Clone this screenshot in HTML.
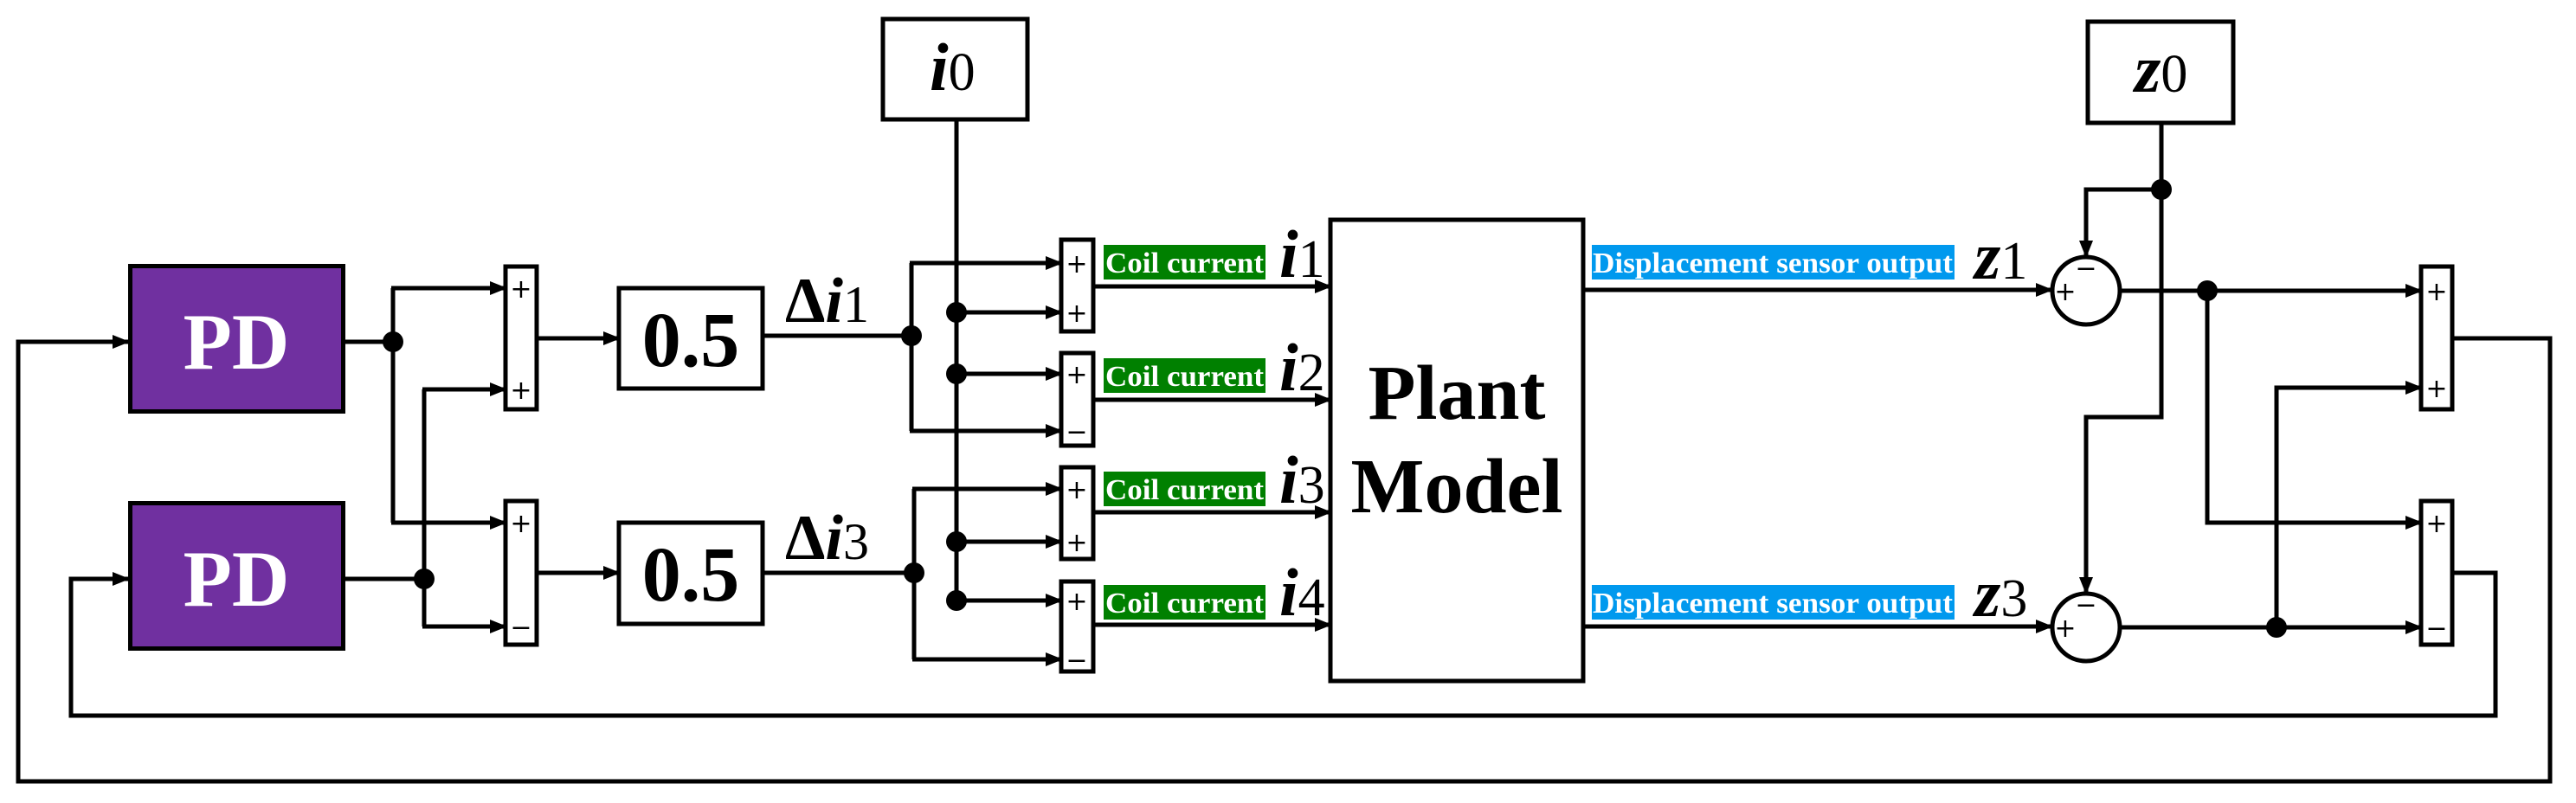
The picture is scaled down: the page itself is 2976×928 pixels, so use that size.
<!DOCTYPE html>
<html><head><meta charset="utf-8"><style>html,body{margin:0;padding:0;background:#fff}svg{display:block}.s{font-family:"Liberation Serif","DejaVu Serif",serif;font-weight:bold}</style></head>
<body>
<svg width="2976" height="928" viewBox="0 0 2976 928" xmlns="http://www.w3.org/2000/svg">
<defs>
<marker id="a" markerWidth="20" markerHeight="16" refX="18" refY="8" orient="auto" markerUnits="userSpaceOnUse"><path d="M0,0 L20,8 L0,16 Z" fill="#000"/></marker>
</defs>
<g fill="none" stroke="#000" stroke-width="5">
<polyline points="2833,391 2946,391 2946,903 21,903 21,395 148,395" marker-end="url(#a)"/>
<polyline points="2833,662 2883,662 2883,827 82,827 82,669 148,669" marker-end="url(#a)"/>
<line x1="399" y1="395" x2="454" y2="395"/>
<line x1="454" y1="333" x2="454" y2="604"/>
<line x1="452" y1="333" x2="584" y2="333" marker-end="url(#a)"/>
<line x1="452" y1="604" x2="584" y2="604" marker-end="url(#a)"/>
<line x1="399" y1="669" x2="490" y2="669"/>
<line x1="490" y1="450" x2="490" y2="724"/>
<line x1="488" y1="450" x2="584" y2="450" marker-end="url(#a)"/>
<line x1="488" y1="724" x2="584" y2="724" marker-end="url(#a)"/>
<line x1="620" y1="391" x2="715" y2="391" marker-end="url(#a)"/>
<line x1="620" y1="662" x2="715" y2="662" marker-end="url(#a)"/>
<line x1="881" y1="388" x2="1053" y2="388"/>
<line x1="1053" y1="304" x2="1053" y2="498"/>
<line x1="1051" y1="304" x2="1226" y2="304" marker-end="url(#a)"/>
<line x1="1051" y1="498" x2="1226" y2="498" marker-end="url(#a)"/>
<line x1="881" y1="662" x2="1056" y2="662"/>
<line x1="1056" y1="565" x2="1056" y2="762"/>
<line x1="1054" y1="565" x2="1226" y2="565" marker-end="url(#a)"/>
<line x1="1054" y1="762" x2="1226" y2="762" marker-end="url(#a)"/>
<line x1="1105" y1="138" x2="1105" y2="694"/>
<line x1="1105" y1="361" x2="1226" y2="361" marker-end="url(#a)"/>
<line x1="1105" y1="432" x2="1226" y2="432" marker-end="url(#a)"/>
<line x1="1105" y1="626" x2="1226" y2="626" marker-end="url(#a)"/>
<line x1="1105" y1="694" x2="1226" y2="694" marker-end="url(#a)"/>
<line x1="1263" y1="331" x2="1537" y2="331" marker-end="url(#a)"/>
<line x1="1263" y1="462" x2="1537" y2="462" marker-end="url(#a)"/>
<line x1="1263" y1="592" x2="1537" y2="592" marker-end="url(#a)"/>
<line x1="1263" y1="722" x2="1537" y2="722" marker-end="url(#a)"/>
<line x1="1829" y1="335" x2="2370" y2="335" marker-end="url(#a)"/>
<line x1="1829" y1="724" x2="2370" y2="724" marker-end="url(#a)"/>
<polyline points="2497,142 2497,482 2410,482 2410,685" marker-end="url(#a)"/>
<polyline points="2497,219 2410,219 2410,296" marker-end="url(#a)"/>
<line x1="2450" y1="336" x2="2797" y2="336" marker-end="url(#a)"/>
<polyline points="2550,336 2550,604 2797,604" marker-end="url(#a)"/>
<line x1="2450" y1="725" x2="2797" y2="725" marker-end="url(#a)"/>
<polyline points="2630,725 2630,448 2797,448" marker-end="url(#a)"/>
<rect x="584" y="308" width="36" height="165"/>
<rect x="584" y="579" width="36" height="166"/>
<rect x="2797" y="308" width="36" height="165"/>
<rect x="2797" y="579" width="36" height="166"/>
<rect x="1226" y="277" width="37" height="106"/>
<rect x="1226" y="408" width="37" height="107"/>
<rect x="1226" y="540" width="37" height="106"/>
<rect x="1226" y="672" width="37" height="104"/>
<rect x="715" y="333" width="166" height="116"/>
<rect x="715" y="604" width="166" height="117"/>
<rect x="1020" y="22" width="167" height="116"/>
<rect x="2412" y="25" width="168" height="117"/>
<rect x="1537" y="254" width="292" height="533"/>
<circle cx="2410" cy="336" r="39" fill="#fff"/>
<circle cx="2410" cy="725" r="39" fill="#fff"/>
</g>
<rect x="150.5" y="307.5" width="246" height="168" fill="#7030a0" stroke="#000" stroke-width="5"/>
<rect x="150.5" y="581.5" width="246" height="168" fill="#7030a0" stroke="#000" stroke-width="5"/>
<g fill="#000">
<circle cx="454" cy="395" r="12"/><circle cx="490" cy="669" r="12"/>
<circle cx="1053" cy="388" r="12"/><circle cx="1056" cy="662" r="12"/>
<circle cx="1105" cy="361" r="12"/><circle cx="1105" cy="432" r="12"/>
<circle cx="1105" cy="626" r="12"/><circle cx="1105" cy="694" r="12"/>
<circle cx="2497" cy="219" r="12"/><circle cx="2550" cy="336" r="12"/><circle cx="2630" cy="725" r="12"/>
</g>
<g class="s">
<text x="273" y="426" font-size="92" fill="#fff" text-anchor="middle">PD</text>
<text x="273" y="700" font-size="92" fill="#fff" text-anchor="middle">PD</text>
<text x="798" y="423" font-size="90" text-anchor="middle">0.5</text>
<text x="798" y="694" font-size="90" text-anchor="middle">0.5</text>
<text x="1683" y="484" font-size="90" text-anchor="middle">Plant</text>
<text x="1683" y="592" font-size="90" text-anchor="middle">Model</text>
<text x="907" y="372" font-size="74">Δ<tspan font-style="italic">i</tspan><tspan font-weight="normal" font-size="60">1</tspan></text>
<text x="907" y="646" font-size="74">Δ<tspan font-style="italic">i</tspan><tspan font-weight="normal" font-size="60">3</tspan></text>
<text x="1074" y="104" font-size="78"><tspan font-style="italic">i</tspan><tspan font-weight="normal" font-size="62">0</tspan></text>
<text x="2466" y="106" font-size="78"><tspan font-style="italic">z</tspan><tspan font-weight="normal" font-size="62">0</tspan></text>
<text x="2281" y="322" font-size="78"><tspan font-style="italic">z</tspan><tspan font-weight="normal" font-size="62">1</tspan></text>
<text x="2281" y="712" font-size="78"><tspan font-style="italic">z</tspan><tspan font-weight="normal" font-size="62">3</tspan></text>
<text x="1478" y="320" font-size="78"><tspan font-style="italic">i</tspan><tspan font-weight="normal" font-size="62">1</tspan></text>
<text x="1478" y="451" font-size="78"><tspan font-style="italic">i</tspan><tspan font-weight="normal" font-size="62">2</tspan></text>
<text x="1478" y="581" font-size="78"><tspan font-style="italic">i</tspan><tspan font-weight="normal" font-size="62">3</tspan></text>
<text x="1478" y="711" font-size="78"><tspan font-style="italic">i</tspan><tspan font-weight="normal" font-size="62">4</tspan></text>
</g>
<g class="s" font-size="34" fill="#fff">
<rect x="1275" y="283" width="187" height="40" fill="#008000"/>
<rect x="1275" y="414" width="187" height="40" fill="#008000"/>
<rect x="1275" y="545" width="187" height="40" fill="#008000"/>
<rect x="1275" y="676" width="187" height="40" fill="#008000"/>
<text x="1277" y="315" textLength="183" lengthAdjust="spacingAndGlyphs">Coil current</text>
<text x="1277" y="446" textLength="183" lengthAdjust="spacingAndGlyphs">Coil current</text>
<text x="1277" y="577" textLength="183" lengthAdjust="spacingAndGlyphs">Coil current</text>
<text x="1277" y="708" textLength="183" lengthAdjust="spacingAndGlyphs">Coil current</text>
<rect x="1839" y="283" width="419" height="40" fill="#0099ee"/>
<rect x="1839" y="676" width="419" height="40" fill="#0099ee"/>
<text x="1840" y="315" textLength="416" lengthAdjust="spacingAndGlyphs">Displacement sensor output</text>
<text x="1840" y="708" textLength="416" lengthAdjust="spacingAndGlyphs">Displacement sensor output</text>
</g>
<g font-family="'DejaVu Sans', sans-serif" font-size="30" text-anchor="middle" fill="#000">
<text x="602" y="344">+</text><text x="602" y="461">+</text>
<text x="602" y="615">+</text><text x="602" y="735">−</text>
<text x="2815" y="347">+</text><text x="2815" y="459">+</text>
<text x="2815" y="615">+</text><text x="2815" y="736">−</text>
<text x="1244" y="315">+</text><text x="1244" y="372">+</text>
<text x="1244" y="443">+</text><text x="1244" y="509">−</text>
<text x="1244" y="576">+</text><text x="1244" y="637">+</text>
<text x="1244" y="705">+</text><text x="1244" y="773">−</text>
<text x="2386" y="347">+</text><text x="2410" y="320">−</text>
<text x="2386" y="736">+</text><text x="2410" y="709">−</text>
</g>
</svg>
</body></html>
